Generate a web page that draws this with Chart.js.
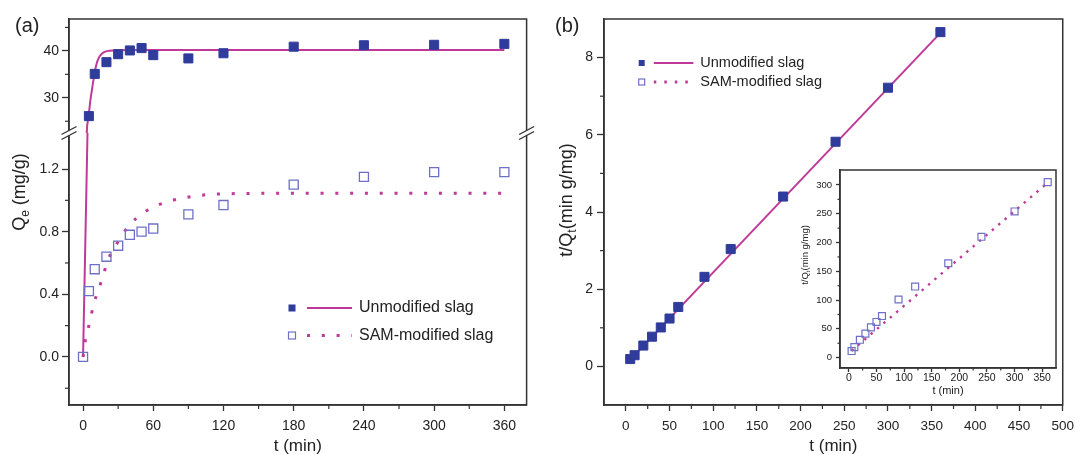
<!DOCTYPE html>
<html lang="en">
<head>
<meta charset="UTF-8">
<title>Adsorption kinetics of slag</title>
<script src="https://cdn.jsdelivr.net/npm/chart.js"></script>
<style>
  body { margin: 0; background: #fff; }
  #wrap { position: relative; width: 1081px; height: 455px; overflow: hidden; }
  canvas { position: absolute; }
  #chartA { left: 0; top: 0; }
  #chartB { left: 540px; top: 0; }
  #chartIn { left: 790px; top: 160px; }
</style>
</head>
<body>
<div id="wrap">
  <canvas id="chartA" width="540" height="455"></canvas>
  <canvas id="chartB" width="541" height="455"></canvas>
  <canvas id="chartIn" width="275" height="240"></canvas>
</div>
<script>
const seriesNames = ['Unmodified slag', 'SAM-modified slag'];

// sampling times, min
const times = [5, 10, 20, 30, 40, 50, 60, 90, 120, 180, 240, 300, 360];
const samTimes = [0, 5, 10, 20, 30, 40, 50, 60, 90, 120, 180, 240, 300, 360];

// (a) Qe, mg/g
const qUnmod = [26.1, 35.1, 37.6, 39.3, 40.1, 40.6, 39.1, 38.4, 39.5, 40.9, 41.2, 41.3, 41.5];
const qSam = [0, 0.42, 0.56, 0.64, 0.71, 0.78, 0.80, 0.82, 0.91, 0.97, 1.10, 1.15, 1.18, 1.18];

// (a) fitted curves
const fitUpT = [3.0, 3.3, 4.2, 5.3, 6.4, 7.6, 9.0, 10.4, 12.0, 14.1, 16.5, 19, 23, 30, 40, 60, 120, 240, 360];
const fitUpQ = [21.0, 23.2, 25.3, 27.4, 29.7, 31.7, 34.0, 36.0, 37.6, 38.8, 39.5, 39.85, 40.05, 40.15, 40.2, 40.2, 40.2, 40.2, 40.2];
const fitLowT = [0, 2.0, 4.0];
const fitLowQ = [0, 0.75, 1.5];
const fitSamT = [0, 2.3, 5.9, 8.8, 12.6, 17, 21.1, 29.4, 39.4, 51.5, 64, 76.5, 89, 101.5, 115, 140, 200, 360];
const fitSamQ = [0, 0.12, 0.225, 0.33, 0.415, 0.515, 0.615, 0.73, 0.84, 0.92, 0.97, 1.0, 1.02, 1.033, 1.04, 1.044, 1.045, 1.045];

// (b) t/Qt, min g/mg
const tqUnmod = [0.19, 0.29, 0.54, 0.77, 1.01, 1.24, 1.54, 2.32, 3.04, 4.40, 5.82, 7.22, 8.66];
const tqSam = [11.5, 18.2, 31, 41.8, 52.5, 62, 72.3, 101, 123.5, 164, 210, 254, 305];
const fitBT = [5, 360];
const fitBUnmod = [0.17, 8.64];
const fitInSam = [12, 304];

// tick labels
const ticksAx = [0, 60, 120, 180, 240, 300, 360];
const minorAx = [30, 90, 150, 210, 270, 330];
const ticksAUp = [30, 40];
const minorAUp = [25, 35, 45];
const ticksALow = [0, 0.4, 0.8, 1.2];
const minorALow = [-0.2, 0.2, 0.6, 1.0];
const ticksBx = [0, 50, 100, 150, 200, 250, 300, 350, 400, 450, 500];
const minorBx = [25, 75, 125, 175, 225, 275, 325, 375, 425, 475];
const ticksBy = [0, 2, 4, 6, 8];
const minorBy = [1, 3, 5, 7];
const ticksInx = [0, 50, 100, 150, 200, 250, 300, 350];
const minorInx = [25, 75, 125, 175, 225, 275, 325];
const ticksIny = [0, 50, 100, 150, 200, 250, 300];
const minorIny = [25, 75, 125, 175, 225, 275];

const BLUE = '#2f3c9c';
const HOLLOW = '#6e70c6';
const MAGENTA = '#bf3a98';
const AXIS = '#333';
const FONT = '"Liberation Sans", Arial, sans-serif';
const DOTS = [3, 11.8];

const pts = (xs, ys) => xs.map((x, i) => ({x: x, y: ys[i]}));

function scale(o) {
    return {
        type: 'linear',
        position: o.pos,
        min: o.min,
        max: o.max,
        stack: o.stack,
        stackWeight: o.weight,
        weight: o.order || 0,
        border: {color: AXIS, width: 1.5},
        grid: {drawOnChartArea: false, drawTicks: true, tickLength: o.tl, tickColor: AXIS, tickWidth: 1.3},
        ticks: {
            autoSkip: false, maxRotation: 0, includeBounds: false,
            padding: o.pad, color: '#222',
            font: {family: FONT, size: o.fs},
            callback: v => v.toFixed(o.dec || 0)
        },
        title: o.title ? {display: true, text: o.title, color: '#222',
            font: {family: FONT, size: o.tfs, lineHeight: 1}, padding: {top: 0, bottom: o.tpad || 0}} : {display: false},
        afterBuildTicks: s => { s.ticks = o.ticks.map(v => ({value: v})); },
        afterFit: s => { if (o.pos === 'bottom') s.height = o.size; else s.width = o.size; }
    };
}

function drawYTitle(ctx, cx, cy, pre, sub, post, size) {
    ctx.save();
    ctx.translate(cx, cy);
    ctx.rotate(-Math.PI / 2);
    ctx.fillStyle = '#222';
    ctx.textBaseline = 'middle';
    const big = size + 'px ' + FONT, small = Math.round(size * 0.65) + 'px ' + FONT;
    ctx.font = big; const w1 = ctx.measureText(pre).width, w3 = ctx.measureText(post).width;
    ctx.font = small; const w2 = ctx.measureText(sub).width;
    let x = -(w1 + w2 + w3) / 2;
    ctx.font = big; ctx.fillText(pre, x, 0); x += w1;
    ctx.font = small; ctx.fillText(sub, x, size * 0.3); x += w2;
    ctx.font = big; ctx.fillText(post, x, 0);
    ctx.restore();
}

// frame, minor ticks, axis break, legend, titles
function extras(cfg) {
    return {
        id: 'extras',
        afterDraw(chart) {
            const ctx = chart.ctx, ca = chart.chartArea;
            ctx.save();
            ctx.strokeStyle = AXIS;
            ctx.lineWidth = 1.5;
            ctx.strokeRect(ca.left, ca.top, ca.right - ca.left, ca.bottom - ca.top);
            ctx.lineWidth = 1.2;
            (cfg.minor || []).forEach(([id, vals, len]) => {
                const s = chart.scales[id];
                vals.forEach(v => {
                    ctx.beginPath();
                    if (s.isHorizontal()) {
                        const x = s.getPixelForValue(v);
                        ctx.moveTo(x, s.top); ctx.lineTo(x, s.top + len);
                    } else {
                        const y = s.getPixelForValue(v);
                        ctx.moveTo(s.right, y); ctx.lineTo(s.right - len, y);
                    }
                    ctx.stroke();
                });
            });
            if (cfg.breakScale) {
                const y = chart.scales[cfg.breakScale].bottom;
                [ca.left, ca.right].forEach(x => {
                    ctx.fillStyle = '#fff';
                    ctx.beginPath();
                    ctx.moveTo(x - 7, y + 1.5); ctx.lineTo(x + 7, y - 6.5);
                    ctx.lineTo(x + 7, y - 1.5); ctx.lineTo(x - 7, y + 6.5);
                    ctx.closePath(); ctx.fill();
                    ctx.lineWidth = 1.4;
                    [-0.5, 4.5].forEach(d => {
                        ctx.beginPath();
                        ctx.moveTo(x - 7.5, y + d + 2); ctx.lineTo(x + 7.5, y + d - 6);
                        ctx.stroke();
                    });
                });
            }
            if (cfg.legend) {
                const L = cfg.legend;
                seriesNames.forEach((name, i) => {
                    const y = L.y + i * L.gap;
                    const m = L.marker;
                    ctx.lineWidth = 1.2;
                    if (i === 0) { ctx.fillStyle = BLUE; ctx.fillRect(L.mx - m / 2, y - m / 2, m, m); }
                    else { ctx.strokeStyle = HOLLOW; ctx.strokeRect(L.mx - m / 2, y - m / 2, m, m); }
                    ctx.strokeStyle = MAGENTA;
                    ctx.lineWidth = i === 0 ? 2 : 3;
                    ctx.setLineDash(i === 0 ? [] : L.dash);
                    ctx.beginPath(); ctx.moveTo(L.x0, y); ctx.lineTo(L.x1, y); ctx.stroke();
                    ctx.setLineDash([]);
                    ctx.fillStyle = '#222';
                    ctx.font = L.fs + 'px ' + FONT;
                    ctx.textBaseline = 'middle';
                    ctx.fillText(name, L.tx, y);
                });
            }
            if (cfg.panel) {
                ctx.fillStyle = '#222';
                ctx.font = '20px ' + FONT;
                ctx.textBaseline = 'middle';
                ctx.fillText(cfg.panel, 15, 26);
            }
            const t = cfg.yTitle;
            drawYTitle(ctx, t.x, t.y, t.pre, t.sub, t.post, t.size);
            ctx.restore();
        }
    };
}

const base = {
    responsive: false,
    animation: false,
    events: [],
    plugins: {legend: {display: false}, tooltip: {enabled: false}},
    elements: {line: {tension: 0}}
};

// ---- panel (a)
new Chart(document.getElementById('chartA'), {
    type: 'scatter',
    data: {
        datasets: [
            {label: seriesNames[0], data: pts(times, qUnmod), yAxisID: 'yUp', pointStyle: 'rect',
             pointRadius: 6.4, backgroundColor: BLUE, borderColor: BLUE, borderWidth: 1},
            {label: seriesNames[1], data: pts(samTimes, qSam), yAxisID: 'yLow', pointStyle: 'rect',
             pointRadius: 6.4, backgroundColor: 'rgba(0,0,0,0)', borderColor: HOLLOW, borderWidth: 1.3},
            {data: pts(fitUpT, fitUpQ), yAxisID: 'yUp', showLine: true, pointRadius: 0,
             borderColor: MAGENTA, borderWidth: 2, cubicInterpolationMode: 'monotone'},
            {data: pts(fitLowT, fitLowQ), yAxisID: 'yLow', showLine: true, pointRadius: 0,
             borderColor: MAGENTA, borderWidth: 2},
            {data: pts(fitSamT, fitSamQ), yAxisID: 'yLow', showLine: true, pointRadius: 0,
             borderColor: MAGENTA, borderWidth: 3, borderDash: DOTS, cubicInterpolationMode: 'monotone'}
        ]
    },
    options: Object.assign({}, base, {
        layout: {padding: {left: 0, right: 13.4, top: 19, bottom: 0}},
        scales: {
            x: scale({pos: 'bottom', min: -12, max: 379, ticks: ticksAx, tl: 6, pad: 7, fs: 14,
                      title: 't (min)', tfs: 17, size: 50}),
            yUp: scale({pos: 'left', min: 22.5, max: 46.8, ticks: ticksAUp, tl: 7, pad: 3, fs: 14,
                        stack: 'q', weight: 114, order: 1, size: 69}),
            yLow: scale({pos: 'left', min: -0.307, max: 1.43, ticks: ticksALow, tl: 7, pad: 3, fs: 14, dec: 1,
                         stack: 'q', weight: 272, order: 0, size: 69})
        }
    }),
    plugins: [extras({
        panel: '(a)',
        minor: [['x', minorAx, 4], ['yUp', minorAUp, 4], ['yLow', minorALow, 4]],
        breakScale: 'yUp',
        legend: {mx: 292, x0: 307, x1: 352, tx: 359, y: 308, gap: 27.5, marker: 7, fs: 16, dash: DOTS},
        yTitle: {x: 20, y: 192, pre: 'Q', sub: 'e', post: ' (mg/g)', size: 18}
    })]
});

// ---- panel (b)
new Chart(document.getElementById('chartB'), {
    type: 'scatter',
    data: {
        datasets: [
            {label: seriesNames[0], data: pts(times, tqUnmod), pointStyle: 'rect',
             pointRadius: 6.4, backgroundColor: BLUE, borderColor: BLUE, borderWidth: 1},
            {data: pts(fitBT, fitBUnmod), showLine: true, pointRadius: 0,
             borderColor: MAGENTA, borderWidth: 2}
        ]
    },
    options: Object.assign({}, base, {
        layout: {padding: {left: 0, right: 14.2, top: 19, bottom: 0}},
        scales: {
            x: scale({pos: 'bottom', min: -25, max: 500, ticks: ticksBx, tl: 6, pad: 7, fs: 13.5,
                      title: 't (min)', tfs: 17, size: 50}),
            y: scale({pos: 'left', min: -1, max: 9, ticks: ticksBy, tl: 7, pad: 4, fs: 14, size: 64})
        }
    }),
    plugins: [extras({
        panel: '(b)',
        minor: [['x', minorBx, 4], ['y', minorBy, 4]],
        legend: {mx: 101.7, x0: 113.8, x1: 153.4, tx: 160.3, y: 63, gap: 19, marker: 6, fs: 14.5, dash: [2.5, 8]},
        yTitle: {x: 27, y: 200, pre: 't/Q', sub: 't', post: '(min g/mg)', size: 18}
    })]
});

// ---- inset of (b)
new Chart(document.getElementById('chartIn'), {
    type: 'scatter',
    data: {
        datasets: [
            {label: seriesNames[1], data: pts(times, tqSam), pointStyle: 'rect',
             pointRadius: 4.9, backgroundColor: 'rgba(0,0,0,0)', borderColor: HOLLOW, borderWidth: 1.2},
            {data: pts(fitBT, fitInSam), showLine: true, pointRadius: 0,
             borderColor: MAGENTA, borderWidth: 2.4, borderDash: [2.4, 6]}
        ]
    },
    options: Object.assign({}, base, {
        layout: {padding: {left: 0, right: 9, top: 10, bottom: 0}},
        scales: {
            x: scale({pos: 'bottom', min: -16, max: 375, ticks: ticksInx, tl: 4, pad: 0, fs: 10.5,
                      title: 't (min)', tfs: 11, tpad: 4, size: 32}),
            y: scale({pos: 'left', min: -18, max: 326, ticks: ticksIny, tl: 4, pad: 4, fs: 9.5, size: 50})
        }
    }),
    plugins: [extras({
        minor: [['x', minorInx, 2.5], ['y', minorIny, 2.5]],
        yTitle: {x: 15, y: 95, pre: 't/Q', sub: 't', post: '(min g/mg)', size: 9.5}
    })]
});
</script>
</body>
</html>
